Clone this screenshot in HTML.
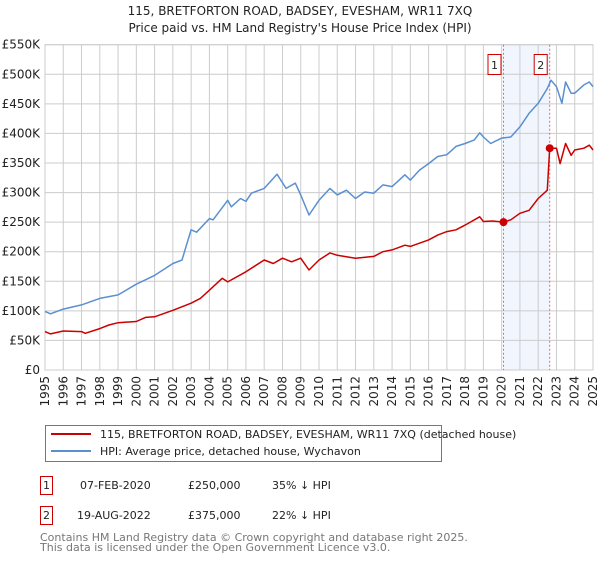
<!DOCTYPE html>
<html><head><meta charset="utf-8"><style>
body{margin:0;background:#fff;font-family:"Liberation Sans","DejaVu Sans",sans-serif;}
svg text{font-family:"DejaVu Sans","Liberation Sans",sans-serif;}
</style></head><body>
<svg id="c" width="600" height="560" xmlns="http://www.w3.org/2000/svg">
<text x="300" y="15" text-anchor="middle" font-size="12" fill="#222">115, BRETFORTON ROAD, BADSEY, EVESHAM, WR11 7XQ</text>
<text x="300" y="32" text-anchor="middle" font-size="12" fill="#222">Price paid vs. HM Land Registry's House Price Index (HPI)</text>
<g id="grid"></g><g id="marks"></g>
<g>
<rect x="45.5" y="425.5" width="396" height="36" fill="#fff" stroke="#777"/>
<line x1="51" y1="434" x2="91" y2="434" stroke="#cc0000" stroke-width="2"/>
<text x="100" y="438" font-size="11" fill="#222">115, BRETFORTON ROAD, BADSEY, EVESHAM, WR11 7XQ (detached house)</text>
<line x1="51" y1="451" x2="91" y2="451" stroke="#5b8fd1" stroke-width="2"/>
<text x="100" y="455" font-size="11" fill="#222">HPI: Average price, detached house, Wychavon</text>
</g>
<g font-size="11" fill="#222">
<rect x="40.5" y="476.5" width="12" height="18" fill="#fff" stroke="#cc0000"/><text x="46.5" y="489" text-anchor="middle">1</text>
<text x="80" y="489">07-FEB-2020</text><text x="188" y="489">£250,000</text><text x="272" y="489">35% ↓ HPI</text>
<rect x="40.5" y="506.5" width="12" height="18" fill="#fff" stroke="#cc0000"/><text x="46.5" y="519" text-anchor="middle">2</text>
<text x="77" y="519">19-AUG-2022</text><text x="188" y="519">£375,000</text><text x="272" y="519">22% ↓ HPI</text>
</g>
<text x="40" y="541" font-size="11" fill="#777">Contains HM Land Registry data © Crown copyright and database right 2025.</text>
<text x="40" y="551" font-size="11" fill="#777">This data is licensed under the Open Government Licence v3.0.</text>
</svg>
<script>
const yTicks=[0,50,100,150,200,250,300,350,400,450,500,550];
const yTickLabels=["£0","£50K","£100K","£150K","£200K","£250K","£300K","£350K","£400K","£450K","£500K","£550K"];
const years=[1995,1996,1997,1998,1999,2000,2001,2002,2003,2004,2005,2006,2007,2008,2009,2010,2011,2012,2013,2014,2015,2016,2017,2018,2019,2020,2021,2022,2023,2024,2025];
const hpiYears=[1995,1995.3,1996,1997,1998,1999,2000,2001,2002,2002.5,2003,2003.3,2004,2004.2,2005,2005.2,2005.7,2006,2006.3,2007,2007.7,2008.2,2008.7,2009,2009.45,2010,2010.6,2011,2011.5,2012,2012.5,2013,2013.5,2014,2014.7,2015,2015.5,2016,2016.5,2017,2017.5,2018,2018.5,2018.8,2019,2019.4,2020,2020.5,2021,2021.5,2022,2022.5,2022.7,2023,2023.3,2023.5,2023.8,2024,2024.5,2024.8,2025];
const hpiValues=[99,95,103,110,121,127,145,160,180,186,237,233,256,254,287,276,290,285,299,307,331,307,316,296,262,287,307,296,304,290,301,299,313,310,330,321,338,349,361,364,378,383,389,401,394,383,392,394,411,434,451,476,490,479,451,487,468,468,482,487,479];
const redYears=[1995,1995.3,1996,1997,1997.2,1998,1998.5,1999,2000,2000.5,2001,2002,2003,2003.5,2004,2004.7,2005,2006,2007,2007.5,2008,2008.5,2009,2009.45,2010,2010.6,2011,2012,2013,2013.5,2014,2014.7,2015,2016,2016.5,2017,2017.5,2018,2018.8,2019,2019.5,2020.1,2020.5,2021,2021.5,2022,2022.5,2022.63,2023,2023.2,2023.5,2023.8,2024,2024.5,2024.8,2025];
const redValues=[65,61,66,65,62,70,76,80,82,89,90,101,113,121,135,155,149,166,186,180,189,183,189,169,186,198,194,189,192,200,203,211,209,220,228,234,237,245,259,251,252,250,254,265,270,290,304,375,375,349,383,363,372,375,380,372];
const saleYears=[2020.1,2022.63];
const saleValues=[250,375];
const saleLabels=["1","2"];
const X0=45,X1=593,Y0=370,Y1=44.7;
const xs=t=>X0+(t-1995)/30*(X1-X0);
const ys=v=>Y0-v/550*(Y0-Y1);
const NS="http://www.w3.org/2000/svg";
const grid=document.getElementById('grid'),marks=document.getElementById('marks');
function mk(tag,attrs,parent){const e=document.createElementNS(NS,tag);for(const k in attrs)e.setAttribute(k,attrs[k]);parent.appendChild(e);return e;}
let sh=mk('rect',{x:xs(saleYears[0]),y:Y1,width:xs(saleYears[1])-xs(saleYears[0]),height:Y0-Y1,fill:'#eef3fc',opacity:0.8},grid);


yTicks.forEach((v,i)=>{
 let l=mk('line',{x1:X0,x2:X1,y1:ys(v),y2:ys(v),stroke:'#cccccc'},grid);
 
 
 let t=mk('text',{x:X0-5,y:ys(v)+4,'text-anchor':'end','font-size':12,fill:'#222'},grid);
 t.textContent=yTickLabels[i];
 
 
});
years.forEach(y=>{
 let l=mk('line',{x1:xs(y),x2:xs(y),y1:Y1,y2:Y0,stroke:'#cccccc'},grid);
 
 
 let t=mk('text',{x:0,y:0,'font-size':12,fill:'#222','text-anchor':'end',transform:`translate(${xs(y)+4},376) rotate(-90)`},grid);
 t.textContent=y;
 
 
});
let bd=mk('rect',{x:X0,y:Y1,width:X1-X0,height:Y0-Y1,fill:'none',stroke:'#cccccc'},grid);


saleYears.forEach((s,i)=>{
 let l=mk('line',{x1:xs(s),x2:xs(s),y1:Y1,y2:Y0,stroke:'#e66','stroke-dasharray':'2,2'},marks);
 
 
 let r=mk('rect',{x:xs(s)-15.5,y:54.5,width:13,height:20,fill:'#fff',stroke:'#cc0000'},marks);
 
 
 let t=mk('text',{x:xs(s)-9,y:69,'text-anchor':'middle','font-size':11,fill:'#222'},marks);
 t.textContent=saleLabels[i];
 
 
});
function line(xa,va,color,name){
 let d=xa.map((x,i)=>(i?'L':'M')+xs(x).toFixed(1)+','+ys(va[i]).toFixed(1)).join('');
 let p=mk('path',{d:d,fill:'none',stroke:color,'stroke-width':1.5,'stroke-linejoin':'round'},marks);
 
 
}
line(hpiYears,hpiValues,'#5b8fd1','hpi-line');
line(redYears,redValues,'#cc0000','property-price-line');
saleYears.forEach((s,i)=>{
 let c=mk('circle',{cx:xs(s),cy:ys(saleValues[i]),r:4,fill:'#cc0000'},marks);
 
 
});
</script>
</body></html>
